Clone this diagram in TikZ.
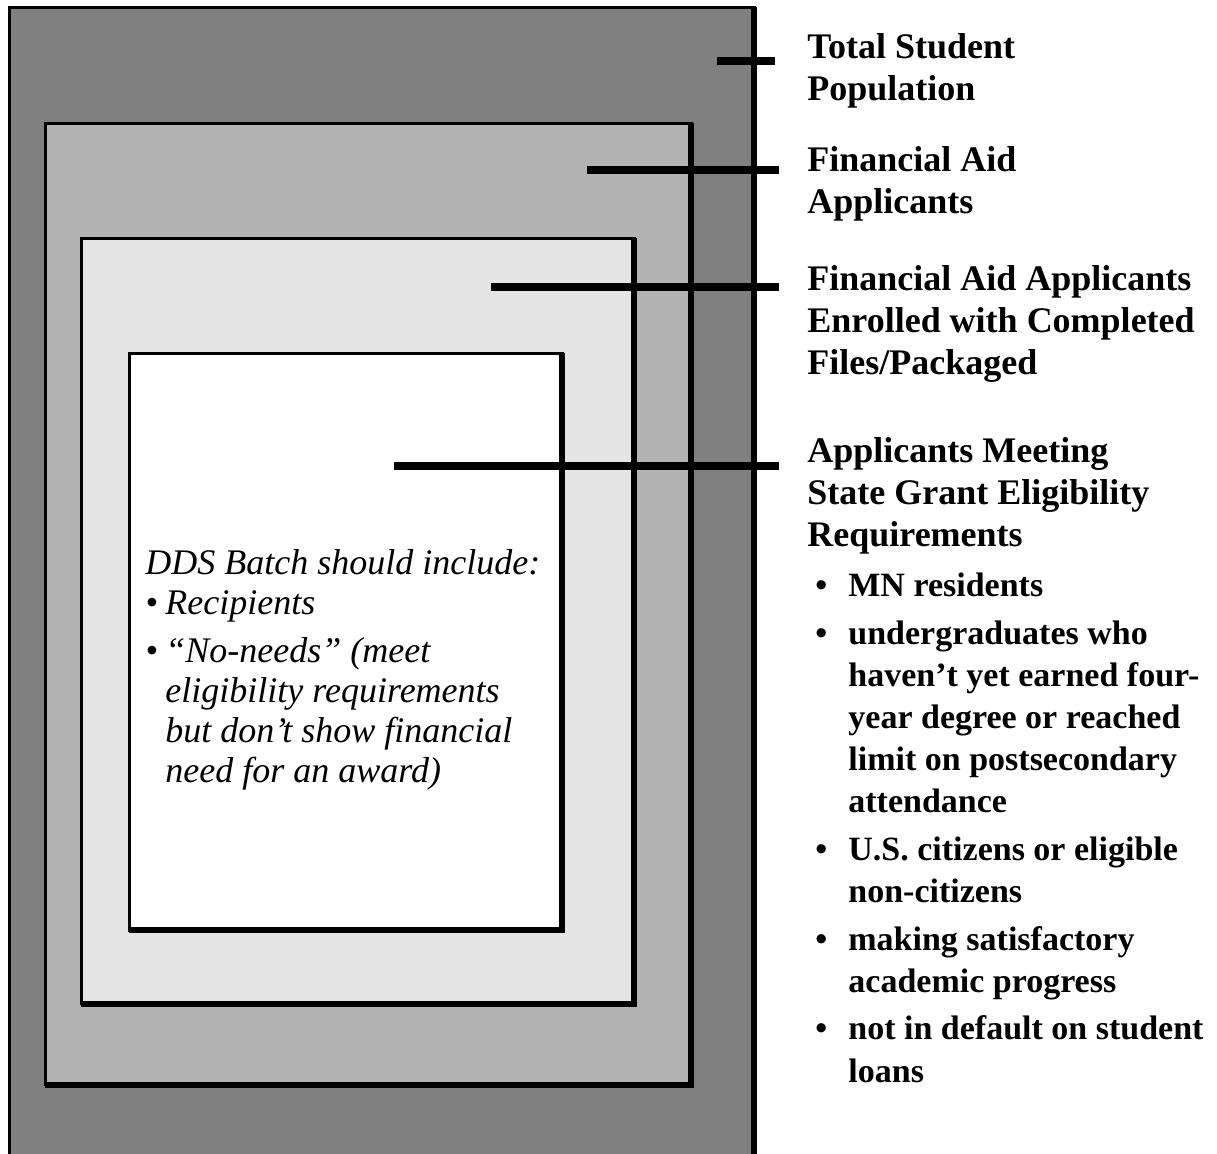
\documentclass[tikz,border=0pt]{standalone}
\usepackage{fontspec}
\setmainfont{Liberation Serif}
\usetikzlibrary{calc}
\definecolor{outergray}{HTML}{808080}
\definecolor{midgray}{HTML}{B3B3B3}
\definecolor{palegray}{HTML}{E5E5E5}

% multi-line nodes sit on the baseline of their last line
\tikzset{
  heading/.style={anchor=base west, inner sep=0, align=left,
    font=\fontsize{18pt}{21pt}\selectfont\bfseries},
  reqlist/.style={anchor=base west, inner sep=0, align=left,
    font=\fontsize{17pt}{21pt}\selectfont\bfseries},
  batchtext/.style={anchor=base west, inner sep=0, align=left,
    font=\fontsize{18pt}{20pt}\selectfont\itshape},
  leader/.style={black, line width=4pt}
}

\begin{document}
\begin{tikzpicture}[x=0.5pt,y=-0.5pt]
\useasboundingbox (0,0) rectangle (1217,1154);
% nested boxes, outer first
\foreach \l/\t/\r/\b/\c in {9.5/7.5/754/1170/outergray, 45.5/123.5/691/1085/midgray,
  81.5/238.5/634/1004/palegray, 129.5/353.5/562/930.5/white} {
 \draw[fill=\c, line width=1.5pt] (\l,\t) rectangle (\r,\b);
 \draw[line width=3pt] (\r,\t-0.75)--(\r,\b+3);
 \draw[line width=3pt] (\l-0.75,\b)--(\r,\b);
}
% leader lines
\coordinate (popin) at (717,61);  \coordinate (popout) at (775,61);
\coordinate (aidin) at (587,170.5); \coordinate (aidout) at (779,170.5);
\coordinate (pkgin) at (491,287); \coordinate (pkgout) at (779,287);
\coordinate (eligin) at (394,466); \coordinate (eligout) at (779,466);
\draw[leader] (popin)--(popout);
\draw[leader] (aidin)--(aidout);
\draw[leader] (pkgin)--(pkgout);
\draw[leader] (eligin)--(eligout);
% labels on the right
\node[heading] (pop) at (807,101) {Total Student\\Population};
\node[heading] (aid) at (807,214) {Financial Aid\\Applicants};
\node[heading] (pkg) at (807,375) {Financial Aid Applicants\\Enrolled with Completed\\Files/Packaged};
\node[heading] (elig) at (807,547) {Applicants Meeting\\State Grant Eligibility\\Requirements};
\node[reqlist] (reqs) at (815,1082) {%
\makebox[16.5pt][l]{\textbullet}MN residents\\[3pt]
\makebox[16.5pt][l]{\textbullet}undergraduates who\\
\hspace*{16.5pt}haven’t yet earned four-\\
\hspace*{16.5pt}year degree or reached\\
\hspace*{16.5pt}limit on postsecondary\\
\hspace*{16.5pt}attendance\\[3pt]
\makebox[16.5pt][l]{\textbullet}U.S. citizens or eligible\\
\hspace*{16.5pt}non-citizens\\[3pt]
\makebox[16.5pt][l]{\textbullet}making satisfactory\\
\hspace*{16.5pt}academic progress\\[3pt]
\makebox[16.5pt][l]{\textbullet}not in default on student\\
\hspace*{16.5pt}loans};
% text inside the innermost box
\node[batchtext] (batch) at (145,783) {%
DDS Batch should include:\\
\makebox[10pt][l]{\textbullet}Recipients\\[4pt]
\makebox[10pt][l]{\textbullet}“No-needs” (meet\\
\hspace*{10pt}eligibility requirements\\
\hspace*{10pt}but don’t show financial\\
\hspace*{10pt}need for an award)};
\end{tikzpicture}
\end{document}
